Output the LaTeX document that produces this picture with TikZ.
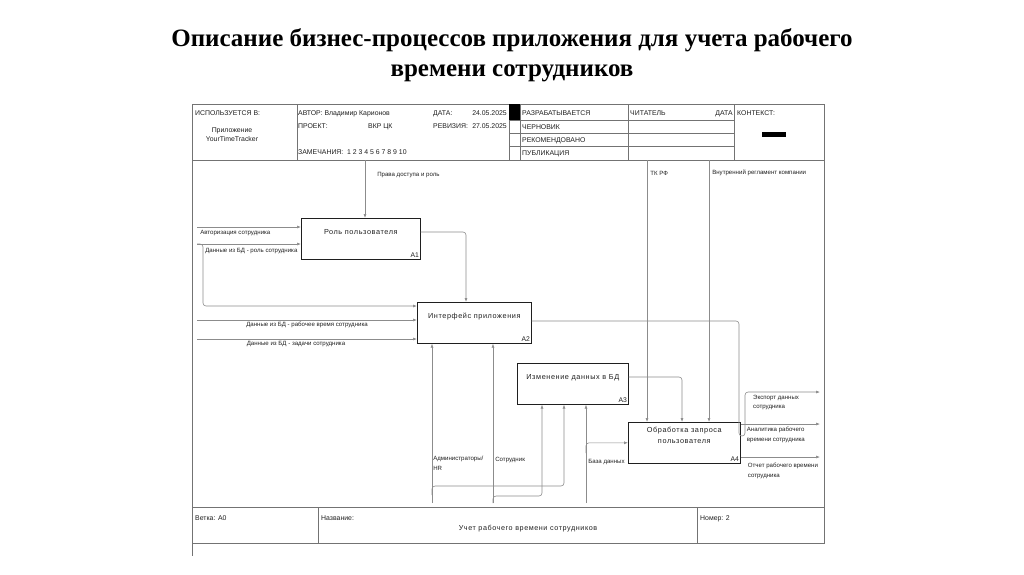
\documentclass[tikz,border=0pt]{standalone}
\usepackage{fontspec}
\setmainfont{Liberation Serif}
\setsansfont{Liberation Sans}
\newfontfamily\wideSans[LetterSpace=8]{Liberation Sans}
\usetikzlibrary{arrows.meta, calc, positioning}
\definecolor{wire}{gray}{0.55}
\definecolor{rule}{gray}{0.45}
\definecolor{ink}{gray}{0.12}

\begin{document}
\begin{tikzpicture}[>={Latex[length=4pt,width=3pt]}, x=1pt, y=-1pt,
  func/.style={draw=ink, line width=0.6pt, anchor=north west, minimum width=#1,
    minimum height=41pt, inner sep=0pt, align=center, text depth=14pt,
    font=\wideSans\fontsize{7.3}{11}\selectfont, text=ink},
  num/.style={anchor=south east, inner sep=1.5pt, font=\sffamily\fontsize{6.8}{7}\selectfont, text=ink},
  wire/.style={draw=wire, line width=0.6pt},
  lbl/.style={font=\sffamily\fontsize{6.1}{9.5}\selectfont, inner sep=1pt, text=ink, align=left},
  hdr/.style={font=\sffamily\fontsize{6.9}{9}\selectfont, inner sep=0pt, text=ink, anchor=base west}]
  \useasboundingbox (0,0) rectangle (1024,574);
  % title
  \node[font=\bfseries\fontsize{25}{30}\selectfont, align=center] (title) at (512,55)
    {Описание бизнес-процессов приложения для учета рабочего\\времени сотрудников};
  % frame
  \draw[rule, line width=0.8pt] (192,104) rectangle (824,543);
  \draw[rule, line width=0.8pt] (192,543) -- (192,556);
  % header grid
  \draw[rule] (192,160) -- (824,160);
  \foreach \x in {297,509,520,628,734}
    \draw[rule] (\x,104) -- (\x,160);
  \foreach \y in {120,133,146}
    \draw[rule] (509,\y) -- (734,\y);
  \fill[black] (509,104) rectangle (520,120);
  \fill[black] (762,132) rectangle (786,137);
  % header text
  \node[hdr] (used) at (195,115.5) {ИСПОЛЬЗУЕТСЯ В:};
  \node[hdr, anchor=center, align=center] (app) at (232,134.5) {Приложение\\YourTimeTracker};
  \node[hdr] (author) at (298,115.5) {АВТОР: Владимир Карионов};
  \node[hdr] (proj) at (298,128.5) {ПРОЕКТ:};
  \node[hdr] (projname) at (368,128.5) {ВКР ЦК};
  \node[hdr] (notes) at (298,154.5) {ЗАМЕЧАНИЯ:\ \ 1 2 3 4 5 6 7 8 9 10};
  \node[hdr] (date) at (433,115.5) {ДАТА:};
  \node[hdr, anchor=base east] (dateval) at (507,115.5) {24.05.2025};
  \node[hdr] (rev) at (433,128.5) {РЕВИЗИЯ:};
  \node[hdr, anchor=base east] (revval) at (507,128.5) {27.05.2025};
  \node[hdr] (st1) at (522,115.5) {РАЗРАБАТЫВАЕТСЯ};
  \node[hdr] (st2) at (522,129) {ЧЕРНОВИК};
  \node[hdr] (st3) at (522,142) {РЕКОМЕНДОВАНО};
  \node[hdr] (st4) at (522,155) {ПУБЛИКАЦИЯ};
  \node[hdr] (reader) at (630,115.5) {ЧИТАТЕЛЬ};
  \node[hdr, anchor=base east] (rdate) at (733,115.5) {ДАТА};
  \node[hdr] (context) at (737,115.5) {КОНТЕКСТ:};
  % footer
  \draw[rule] (192,507) -- (824,507);
  \draw[rule] (318,507) -- (318,543);
  \draw[rule] (697,507) -- (697,543);
  \node[hdr] (node) at (195,520.5) {Ветка: А0};
  \node[hdr] (name) at (321,520.5) {Название:};
  \node[hdr, anchor=base, font=\wideSans\fontsize{7.2}{8}\selectfont] (nameval) at (528,530.5)
    {Учет рабочего времени сотрудников};
  \node[hdr] (number) at (700,520.5) {Номер: 2};
  % functions
  \node[func=119pt, label={[num]south east:A1}] (a1) at (301,218) {Роль пользователя};
  \node[func=114pt, label={[num]south east:A2}] (a2) at (417,302) {Интерфейс приложения};
  \node[func=111pt, label={[num]south east:A3}] (a3) at (517,363) {Изменение данных в БД};
  \node[func=112pt, label={[num]south east:A4}] (a4) at (628,422)
    {Обработка запроса\\пользователя};
  % free ends
  \coordinate (i1) at (197,227);
  \coordinate (i2) at (197,244);
  \coordinate (i3) at (197,320);
  \coordinate (i4) at (197,339);
  \coordinate (c1) at (365,160);
  \coordinate (c2) at (647,160);
  \coordinate (c3) at (709,160);
  \coordinate (o1) at (820,392);
  \coordinate (o2) at (820,424);
  \coordinate (o3) at (820,457);
  \coordinate (m1) at (432,503);
  \coordinate (m2) at (493,503);
  \coordinate (m3) at (586,503);
  \coordinate (k1) at (739,436);
  % inputs
  \draw[wire, ->] (i1) -- (i1 -| a1.west)
    node[lbl, pos=0, anchor=north west, xshift=2pt, yshift=-2pt] (t1) {Авторизация сотрудника};
  \draw[wire, ->] (i2) -- (i2 -| a1.west)
    node[lbl, pos=0, anchor=north west, xshift=7pt, yshift=-3pt] (t2) {Данные из БД - роль сотрудника};
  \draw[wire, ->, rounded corners=3pt] (i2) -- ($(i2)+(6,0)$) |- ($(a2.north west)+(0,4)$);
  \draw[wire, ->] (i3) -- (i3 -| a2.west)
    node[lbl, midway, below, yshift=-1pt] (t3) {Данные из БД - рабочее время сотрудника};
  \draw[wire, ->] (i4) -- (i4 -| a2.west)
    node[lbl, pos=0.45, below, yshift=-1pt] (t4) {Данные из БД - задачи сотрудника};
  % controls
  \draw[wire, ->] (c1) -- (c1 |- a1.north)
    node[lbl, pos=0.26, right, xshift=11pt] (t5) {Права доступа и роль};
  \draw[wire, ->] (c2) -- (c2 |- a4.north)
    node[lbl, pos=0.053, right, xshift=2pt] (t6) {ТК РФ};
  \draw[wire, ->] (c3) -- (c3 |- a4.north)
    node[lbl, pos=0.05, right, xshift=2pt] (t7) {Внутренний регламент компании};
  % links between functions
  \draw[wire, ->, rounded corners=3pt] ($(a1.north east)+(0,14)$) -| ($(a2.north west)+(49,0)$);
  \draw[wire, ->, rounded corners=3pt] ($(a3.north east)+(0,14)$) -| ($(a4.north west)+(54,0)$);
  \draw[wire, ->, rounded corners=3pt] ($(a2.north east)+(0,19)$) -| (k1) -- ($(k1)+(6,0)$) |- (o1);
  % outputs
  \node[lbl, anchor=north west] (t8) at (752,394) {Экспорт данных\\сотрудника};
  \draw[wire, ->] (a4.east |- o2) -- (o2)
    node[lbl, pos=0, anchor=north west, xshift=5pt, yshift=-2pt] (t9) {Аналитика рабочего\\времени сотрудника};
  \draw[wire, ->] (a4.east |- o3) -- (o3)
    node[lbl, pos=0, anchor=north west, xshift=6pt, yshift=-5pt] (t10) {Отчет рабочего времени\\сотрудника};
  % mechanisms
  \draw[wire, ->] (m1) -- (m1 |- a2.south)
    node[lbl, pos=0.3, anchor=north west, xshift=0pt] (t11) {Администраторы/\\HR};
  \draw[wire, ->, rounded corners=3pt] ($(m1)+(0,-8)$) -- ($(m1)+(0,-17)$) -| ($(a3.south west)+(47,0)$);
  \draw[wire, ->] (m2) -- (m2 |- a2.south)
    node[lbl, pos=0.27, right, xshift=1pt] (t12) {Сотрудник};
  \draw[wire, ->, rounded corners=3pt] (m2) -- ($(m2)+(0,-7)$) -| ($(a3.south west)+(25,0)$);
  \draw[wire, ->] (m3) -- (m3 |- a3.south)
    node[lbl, pos=0.42, right, xshift=1pt] (t13) {База данных};
  \draw[wire, ->, rounded corners=3pt] ($(m3)+(0,-50)$) |- (a4.west);
\end{tikzpicture}
\end{document}
